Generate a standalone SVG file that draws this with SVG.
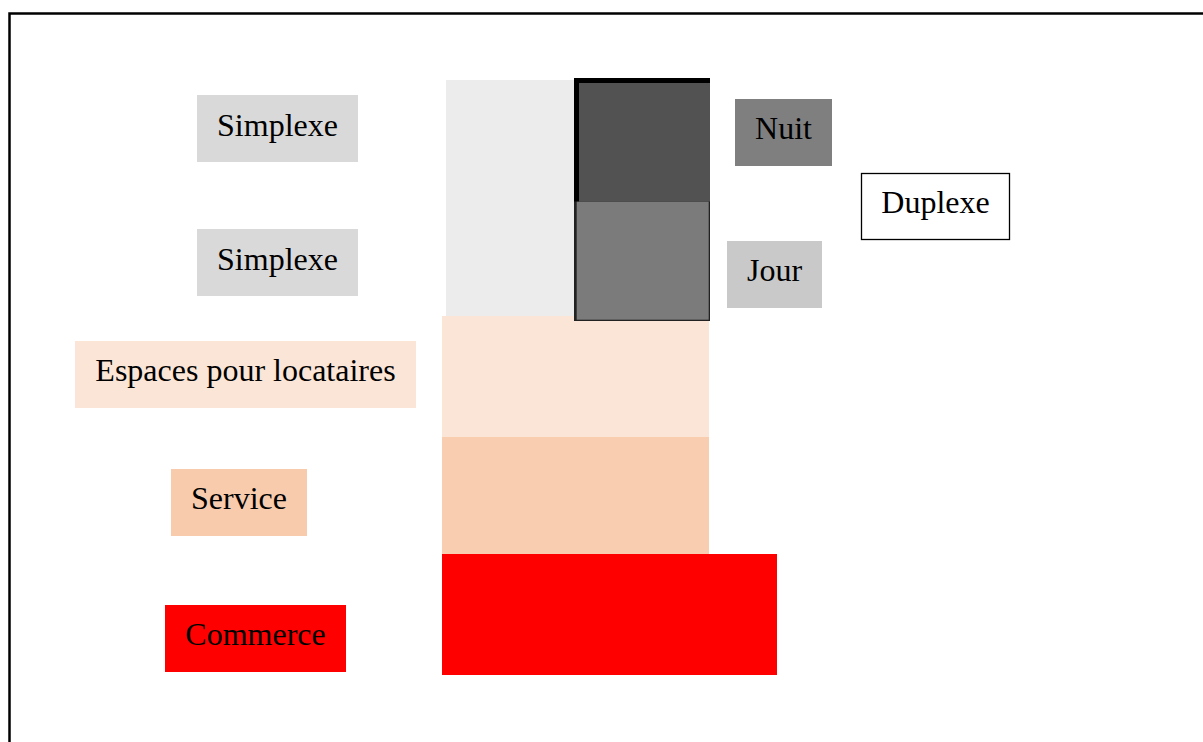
<svg xmlns="http://www.w3.org/2000/svg" width="1203" height="742" viewBox="0 0 1203 742">
<style>
  .lbl { font-family: "Liberation Serif", "Times New Roman", serif; font-size: 32px; fill: #000; text-anchor: middle; }
</style>
<rect x="0" y="0" width="1203" height="742" fill="#ffffff"/>
<path d="M9.5,742 V13.5 H1203" fill="none" stroke="#000" stroke-width="2.5"/>
<g id="building">
  <rect x="446" y="80" width="128" height="239" fill="#ececec"/>
  <rect x="442" y="316" width="267" height="121" fill="#fbe5d6"/>
  <rect x="442" y="437" width="267" height="117" fill="#f8cdb0"/>
  <rect x="442" y="554" width="335" height="121" fill="#ff0000"/>
  <g id="block-nuit">
    <rect x="574" y="78" width="136" height="124" fill="#000"/>
    <rect x="579" y="83" width="131" height="119" fill="#525252"/>
  </g>
  <g id="block-jour">
    <rect x="574" y="201.5" width="136" height="119.5" fill="#222"/>
    <rect x="576.7" y="201.7" width="132" height="118" fill="#7b7b7b"/>
  </g>
</g>
<g id="connectors"/>
<g id="simplexe-1">
  <rect x="197" y="95" width="161" height="67" fill="#d9d9d9"/>
  <text class="lbl" x="277.5" y="136">Simplexe</text>
</g>
<g id="simplexe-2">
  <rect x="197" y="229" width="161" height="67" fill="#d9d9d9"/>
  <text class="lbl" x="277.5" y="270">Simplexe</text>
</g>
<g id="espaces">
  <rect x="75" y="341" width="341" height="67" fill="#fbe5d6"/>
  <text class="lbl" x="245.5" y="381">Espaces pour locataires</text>
</g>
<g id="service">
  <rect x="171" y="469" width="136" height="67" fill="#f8cbad"/>
  <text class="lbl" x="239" y="509">Service</text>
</g>
<g id="commerce">
  <rect x="165" y="605" width="181" height="67" fill="#ff0000"/>
  <text class="lbl" x="255.5" y="645">Commerce</text>
</g>
<g id="nuit">
  <rect x="735" y="99" width="97" height="67" fill="#7f7f7f"/>
  <text class="lbl" x="783.5" y="139">Nuit</text>
</g>
<g id="jour">
  <rect x="727" y="241" width="95" height="67" fill="#c9c9c9"/>
  <text class="lbl" x="774.5" y="281">Jour</text>
</g>
<g id="duplexe">
  <rect x="861.5" y="173.5" width="148" height="66" fill="#ffffff" stroke="#000" stroke-width="1.3"/>
  <text class="lbl" x="935.5" y="213">Duplexe</text>
</g>
</svg>
